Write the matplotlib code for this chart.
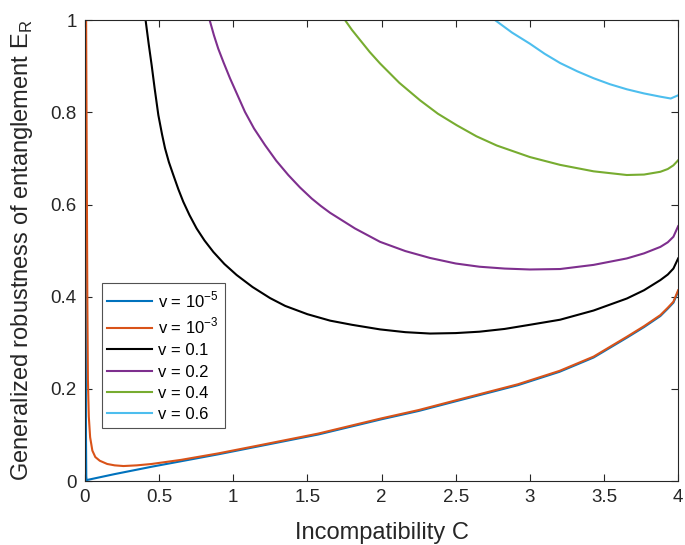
import matplotlib
matplotlib.use('Agg')
import matplotlib.pyplot as plt

# Values (C, E_R) for each v
c_v1e5 = [0.003, 0.005, 0.007, 0.009, 0.011, 0.2, 0.45, 0.9, 1.574, 2.0, 2.25, 2.5, 2.92,
          3.2, 3.43, 3.654, 3.77, 3.88, 3.93, 3.968, 4.0]
e_v1e5 = [1.0, 0.6, 0.1, 0.01, 0.002, 0.015, 0.031, 0.058, 0.101, 0.134, 0.152, 0.173, 0.208,
          0.237, 0.268, 0.311, 0.334, 0.358, 0.374, 0.387, 0.411]

c_v1e3 = [0.008, 0.012, 0.016, 0.020, 0.026, 0.035, 0.05, 0.07, 0.10, 0.15, 0.20, 0.26, 0.35,
          0.45, 0.65, 0.9, 1.2, 1.574, 2.0, 2.25, 2.5, 2.92, 3.2, 3.43, 3.654, 3.77, 3.88,
          3.93, 3.968, 4.0]
e_v1e3 = [1.0, 0.7, 0.4, 0.22, 0.14, 0.095, 0.066, 0.052, 0.044, 0.037, 0.034, 0.0325, 0.034,
          0.037, 0.046, 0.06, 0.079, 0.103, 0.136, 0.154, 0.175, 0.210, 0.239, 0.27, 0.313,
          0.336, 0.36, 0.376, 0.389, 0.414]

c_v01 = [0.409, 0.43, 0.45, 0.47, 0.495, 0.52, 0.54, 0.566, 0.596, 0.63, 0.663, 0.705, 0.753,
         0.806, 0.866, 0.94, 1.023, 1.13, 1.248, 1.35, 1.5, 1.653, 1.8, 1.99, 2.16, 2.327, 2.5,
         2.66, 2.83, 3.0, 3.204, 3.43, 3.654, 3.77, 3.88, 3.93, 3.968, 4.0]
e_v01 = [1.0, 0.948, 0.902, 0.852, 0.794, 0.752, 0.722, 0.692, 0.664, 0.633, 0.606, 0.577,
         0.548, 0.522, 0.497, 0.471, 0.447, 0.421, 0.397, 0.380, 0.362, 0.348, 0.339, 0.329,
         0.323, 0.320, 0.321, 0.324, 0.330, 0.339, 0.350, 0.370, 0.396, 0.414, 0.436, 0.448,
         0.461, 0.483]

c_v02 = [0.841, 0.87, 0.899, 0.935, 0.978, 1.025, 1.079, 1.14, 1.214, 1.29, 1.371, 1.45, 1.529,
         1.59, 1.653, 1.821, 1.99, 2.16, 2.327, 2.5, 2.66, 2.83, 3.0, 3.204, 3.43, 3.654, 3.77,
         3.88, 3.93, 3.968, 4.0]
e_v02 = [1.0, 0.967, 0.938, 0.908, 0.874, 0.840, 0.801, 0.765, 0.729, 0.695, 0.664, 0.637,
         0.613, 0.597, 0.582, 0.548, 0.519, 0.499, 0.484, 0.472, 0.465, 0.461, 0.459, 0.46,
         0.469, 0.483, 0.494, 0.508, 0.518, 0.53, 0.553]

c_v04 = [1.754, 1.80, 1.85, 1.92, 1.99, 2.12, 2.26, 2.38, 2.507, 2.64, 2.777, 3.0, 3.204, 3.43,
         3.654, 3.77, 3.88, 3.93, 3.968, 4.0]
e_v04 = [1.0, 0.979, 0.959, 0.931, 0.906, 0.864, 0.826, 0.797, 0.772, 0.748, 0.728, 0.703,
         0.686, 0.672, 0.664, 0.665, 0.671, 0.677, 0.685, 0.696]

c_v06 = [2.766, 2.88, 3.0, 3.1, 3.204, 3.32, 3.43, 3.54, 3.654, 3.77, 3.88, 3.95, 4.0]
e_v06 = [1.0, 0.973, 0.949, 0.927, 0.907, 0.889, 0.874, 0.861, 0.850, 0.841, 0.834, 0.830, 0.837]

labels = ['v = 10$^{\\mathregular{-5}}$', 'v = 10$^{\\mathregular{-3}}$', 'v = 0.1',
          'v = 0.2', 'v = 0.4', 'v = 0.6']
colors = ['#0072BD', '#D95319', '#000000', '#7E2F8E', '#77AC30', '#4DBEEE']
x_ticks = [0, 0.5, 1, 1.5, 2, 2.5, 3, 3.5, 4]
x_tick_labels = ['0', '0.5', '1', '1.5', '2', '2.5', '3', '3.5', '4']
y_ticks = [0, 0.2, 0.4, 0.6, 0.8, 1]
y_tick_labels = ['0', '0.2', '0.4', '0.6', '0.8', '1']

plt.rcParams['font.family'] = ['Liberation Sans', 'DejaVu Sans']
plt.rcParams['mathtext.fontset'] = 'custom'
plt.rcParams['mathtext.rm'] = 'Liberation Sans'

axis_color = '#262626'

fig = plt.figure(figsize=(6.85, 5.45), dpi=100)
ax = fig.add_axes([0.124, 0.1174, 0.866, 0.8456])

curves = [(c_v1e5, e_v1e5), (c_v1e3, e_v1e3), (c_v01, e_v01),
          (c_v02, e_v02), (c_v04, e_v04), (c_v06, e_v06)]
for (cx, ey), lab, col in zip(curves, labels, colors):
    ax.plot(cx, ey, color=col, linewidth=1.5, label=lab)

ax.set_xlim(0, 4)
ax.set_ylim(0, 1)
ax.set_xticks(x_ticks)
ax.set_xticklabels(x_tick_labels)
ax.set_yticks(y_ticks)
ax.set_yticklabels(y_tick_labels)
ax.tick_params(direction='in', top=True, right=True, length=5, width=0.8,
               colors=axis_color, labelsize=13.5, pad=6)
for s in ax.spines.values():
    s.set_color(axis_color)
    s.set_linewidth(0.8)

ax.set_xlabel('Incompatibility C', fontsize=17, color=axis_color, labelpad=11)
ax.set_ylabel('Generalized robustness of entanglement E$_\\mathregular{R}$',
              fontsize=17, color=axis_color, labelpad=11)

leg = ax.legend(loc='lower left', bbox_to_anchor=(0.028, 0.115), fontsize=12,
                frameon=True, fancybox=False, handlelength=2.7, handletextpad=0.35,
                labelspacing=0.38, borderpad=0.35, borderaxespad=0)
leg.get_frame().set_edgecolor(axis_color)
leg.get_frame().set_linewidth(0.8)

plt.savefig('out.png', dpi=100)
plt.close()
